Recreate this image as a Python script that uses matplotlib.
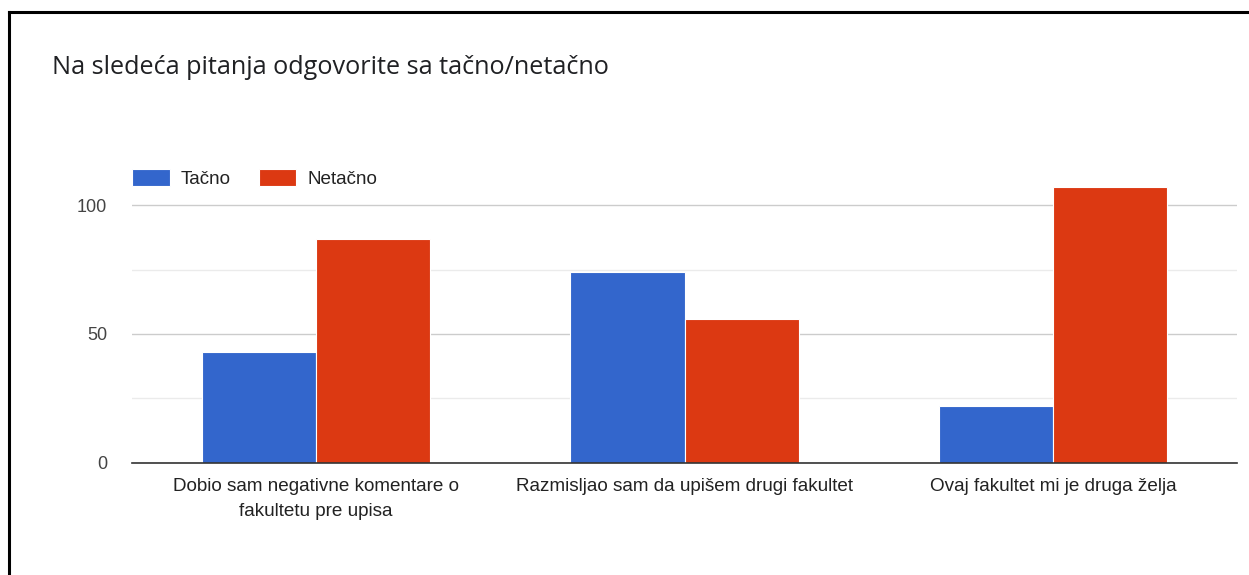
import matplotlib
matplotlib.use("Agg")
import matplotlib.pyplot as plt
from matplotlib.lines import Line2D
import numpy as np

categories = ["Dobio sam negativne komentare o\nfakultetu pre upisa",
              "Razmisljao sam da upišem drugi fakultet",
              "Ovaj fakultet mi je druga želja"]
series_names = ["Tačno", "Netačno"]
tacno = [43, 74, 22]
netacno = [87, 56, 107]
yticks = [0, 50, 100]

W, H = 1249, 575
fig = plt.figure(figsize=(W/100, H/100), dpi=100)
fig.patch.set_facecolor("white")

ax_l, ax_r = 132/W, 1237/W
ax_b, ax_t = 1 - 462.5/H, 1 - 167.6/H
ax = fig.add_axes([ax_l, ax_b, ax_r - ax_l, ax_t - ax_b])

x = np.arange(len(categories))
bw = 0.31
ax.bar(x - bw/2, tacno, bw, color="#3366CC", edgecolor="white", linewidth=0.8, label=series_names[0], zorder=3)
ax.bar(x + bw/2, netacno, bw, color="#DC3912", edgecolor="white", linewidth=0.8, label=series_names[1], zorder=3)

ax.set_xlim(-0.5, 2.5)
ax.set_ylim(0, 114.7)
ax.set_yticks(yticks)
ax.set_yticks([25, 75], minor=True)
ax.yaxis.grid(True, which="major", color="#cccccc", linewidth=1, zorder=0)
ax.yaxis.grid(True, which="minor", color="#ebebeb", linewidth=1, zorder=0)
for s in ["top", "right", "left"]:
    ax.spines[s].set_visible(False)
ax.spines["bottom"].set_color("#333333")
ax.spines["bottom"].set_linewidth(1.2)
ax.spines["bottom"].set_zorder(4)
ax.tick_params(axis="both", which="both", length=0)
ax.tick_params(axis="y", pad=18, labelsize=13, labelcolor="#444444")
ax.set_xticks(x)
ax.set_xticklabels(categories, fontsize=13.6, color="#222222", linespacing=1.65, family="Liberation Sans")
ax.tick_params(axis="x", pad=11)
for t in ax.get_yticklabels():
    t.set_family("Liberation Sans")

leg = ax.legend(loc="lower left", bbox_to_anchor=(132/W, 1 - 188/H), bbox_transform=fig.transFigure,
                ncol=2, frameon=False, borderpad=0, borderaxespad=0,
                handlelength=2.0, handleheight=0.95, handletextpad=0.6, columnspacing=1.45,
                prop={"family": "Liberation Sans", "size": 13.6})
for t in leg.get_texts():
    t.set_color("#222222")

fig.text(52/W, 1 - 68/H, "Na sledeća pitanja odgovorite sa tačno/netačno",
         fontsize=18.2, color="#202124", va="center", ha="left", family="Open Sans")

fig.add_artist(Line2D([9/W, 9/W], [0, 1 - 12/H], color="black", linewidth=2.2, transform=fig.transFigure))
fig.add_artist(Line2D([9/W, 1], [1 - 12/H, 1 - 12/H], color="black", linewidth=2.2, transform=fig.transFigure))

fig.savefig("out.png", dpi=100)
